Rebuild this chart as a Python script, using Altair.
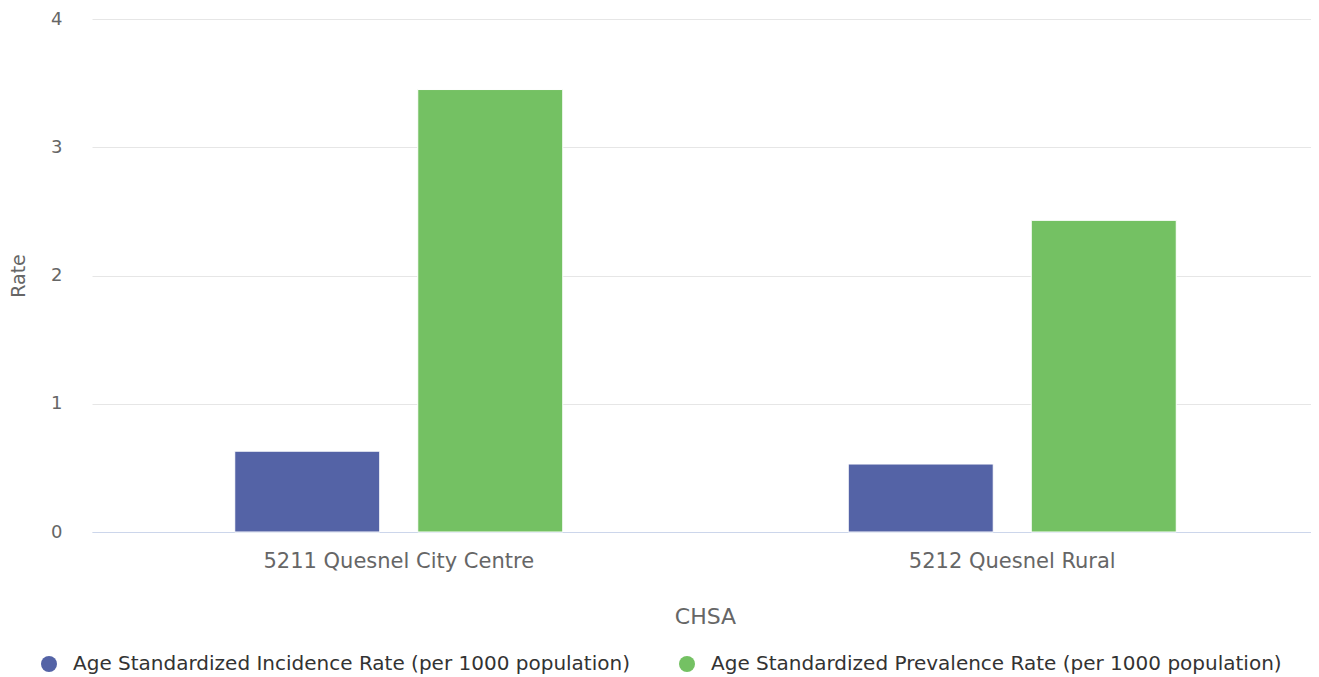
import altair as alt
import pandas as pd

categories = ["5211 Quesnel City Centre", "5212 Quesnel Rural"]
series_names = [
    "Age Standardized Incidence Rate (per 1000 population)",
    "Age Standardized Prevalence Rate (per 1000 population)",
]
incidence = [0.63, 0.53]
prevalence = [3.45, 2.43]
colors = ["#5463a6", "#74c163"]

rows = []
for i, c in enumerate(categories):
    rows.append({"CHSA": c, "series": series_names[0], "Rate": incidence[i]})
    rows.append({"CHSA": c, "series": series_names[1], "Rate": prevalence[i]})
df = pd.DataFrame(rows)

FONT = "DejaVu Sans"

chart = alt.Chart(df).mark_bar(stroke="#ffffff", strokeWidth=1).encode(
    x=alt.X(
        "CHSA:N",
        sort=categories,
        scale=alt.Scale(paddingInner=0, paddingOuter=0, range=[0, 1227]),
        axis=alt.Axis(
            title="CHSA",
            labelAngle=0,
            labelFont=FONT,
            labelFontSize=21,
            labelColor="#666666",
            labelPadding=18,
            labelLimit=1000,
            titleFont=FONT,
            titleFontSize=22,
            titleFontWeight="normal",
            titleColor="#666666",
            titlePadding=35,
            titleX=613,
            domainColor="#ccd6eb",
            domainWidth=1,
            ticks=False,
            grid=False,
        ),
    ),
    xOffset=alt.XOffset(
        "series:N",
        sort=series_names,
        scale=alt.Scale(paddingInner=0.2077, paddingOuter=0.78),
    ),
    y=alt.Y(
        "Rate:Q",
        scale=alt.Scale(domain=[0, 4], nice=False),
        axis=alt.Axis(
            title="Rate",
            values=[0, 1, 2, 3, 4],
            format="d",
            labelFont=FONT,
            labelFontSize=18,
            labelColor="#666666",
            labelPadding=30,
            titleFont=FONT,
            titleFontSize=19,
            titleFontWeight="normal",
            titleColor="#666666",
            titlePadding=22,
            domain=False,
            ticks=False,
            gridColor="#e6e6e6",
            gridWidth=1,
        ),
    ),
    color=alt.Color(
        "series:N",
        sort=series_names,
        scale=alt.Scale(domain=series_names, range=colors),
        legend=alt.Legend(
            title=None,
            orient="none",
            direction="horizontal",
            legendX=-53,
            legendY=635,
            symbolType="circle",
            symbolSize=256,
            symbolStrokeWidth=0,
            labelFont=FONT,
            labelFontSize=20,
            labelColor="#333333",
            labelOffset=14,
            labelLimit=800,
            columnPadding=47,
        ),
    ),
).properties(
    width=1219,
    height=513,
    autosize=alt.AutoSizeParams(type="none"),
    padding={"left": 84, "top": 11, "right": 0, "bottom": 145},
).configure_view(stroke=None)

chart.save("out.html", embed_options={"renderer": "svg", "actions": False})
